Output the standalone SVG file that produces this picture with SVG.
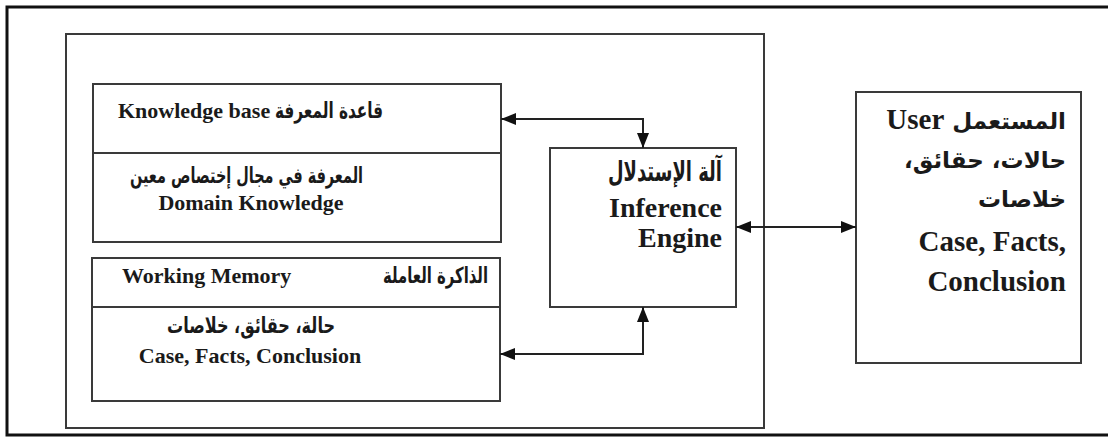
<svg xmlns="http://www.w3.org/2000/svg" width="1108" height="437" viewBox="0 0 1108 437">
<style>
.box{fill:none;stroke:#3a3a3a;stroke-width:2}
.en{font-family:"Liberation Serif","Times New Roman",serif;font-weight:bold;fill:#1a1a1a}
.ar{font-family:"DejaVu Sans","Noto Sans",sans-serif;font-weight:bold;fill:#1a1a1a}
.s22{font-size:22px}
.s28{font-size:28px}
.s30{font-size:29px}
.ua{font-size:23px}
.conn{fill:none;stroke:#222;stroke-width:2}
</style>
<defs>
<marker id="ah" markerWidth="15" markerHeight="12" refX="15" refY="6" orient="auto-start-reverse" markerUnits="userSpaceOnUse">
<path d="M0,0 L15,6 L0,12 z" fill="#111"/>
</marker>
</defs>
<rect width="1108" height="437" fill="#fff"/>
<path d="M1110,7 H7 V435 H1110" fill="none" stroke="#111" stroke-width="3"/>
<g id="container">
<rect class="box" x="66" y="34" width="698" height="394"/>
</g>
<g id="knowledge-base">
<rect class="box" x="93" y="84" width="408" height="158"/>
<line class="box" x1="93" y1="153" x2="501" y2="153"/>
<text class="en s22" x="118" y="118">Knowledge base</text>
<text class="ar s22" x="383" y="118" textLength="108" lengthAdjust="spacingAndGlyphs" direction="rtl" text-anchor="start">قاعدة المعرفة</text>
<text class="ar s22" x="363" y="183" textLength="233" lengthAdjust="spacingAndGlyphs" direction="rtl" text-anchor="start">المعرفة في مجال إختصاص معين</text>
<text class="en s22" x="251" y="210" text-anchor="middle">Domain Knowledge</text>
</g>
<g id="working-memory">
<rect class="box" x="92" y="258" width="408" height="143"/>
<line class="box" x1="92" y1="307" x2="500" y2="307"/>
<text class="en s22" x="122" y="283">Working Memory</text>
<text class="ar s22" x="488" y="283" textLength="105" lengthAdjust="spacingAndGlyphs" direction="rtl" text-anchor="start">الذاكرة العاملة</text>
<text class="ar s22" x="335" y="333" textLength="168" lengthAdjust="spacingAndGlyphs" direction="rtl" text-anchor="start">حالة، حقائق، خلاصات</text>
<text class="en s22" x="250" y="363" text-anchor="middle">Case, Facts, Conclusion</text>
</g>
<g id="inference-engine">
<rect class="box" x="550" y="148" width="186" height="159"/>
<text class="ar s28" x="722" y="181" textLength="114" lengthAdjust="spacingAndGlyphs" direction="rtl" text-anchor="start">آلة الإستدلال</text>
<text class="en s28" x="722" y="217" text-anchor="end">Inference</text>
<text class="en s28" x="722" y="247" text-anchor="end">Engine</text>
</g>
<g id="user">
<rect class="box" x="856" y="92" width="225" height="271"/>
<text class="ar ua" x="1066" y="129" direction="rtl" text-anchor="start">المستعمل <tspan class="en s30">User</tspan></text>
<text class="ar ua" x="1066" y="168" direction="rtl" text-anchor="start">حالات، حقائق،</text>
<text class="ar ua" x="1066" y="207" direction="rtl" text-anchor="start">خلاصات</text>
<text class="en s30" x="1066" y="251" text-anchor="end">Case, Facts,</text>
<text class="en s30" x="1066" y="291" text-anchor="end">Conclusion</text>
</g>
<g id="connectors">
<path class="conn" d="M501,119 H643 V148" marker-start="url(#ah)" marker-end="url(#ah)"/>
<path class="conn" d="M500,354 H643 V307" marker-start="url(#ah)" marker-end="url(#ah)"/>
<path class="conn" d="M736,227 H856" marker-start="url(#ah)" marker-end="url(#ah)"/>
</g>
</svg>
